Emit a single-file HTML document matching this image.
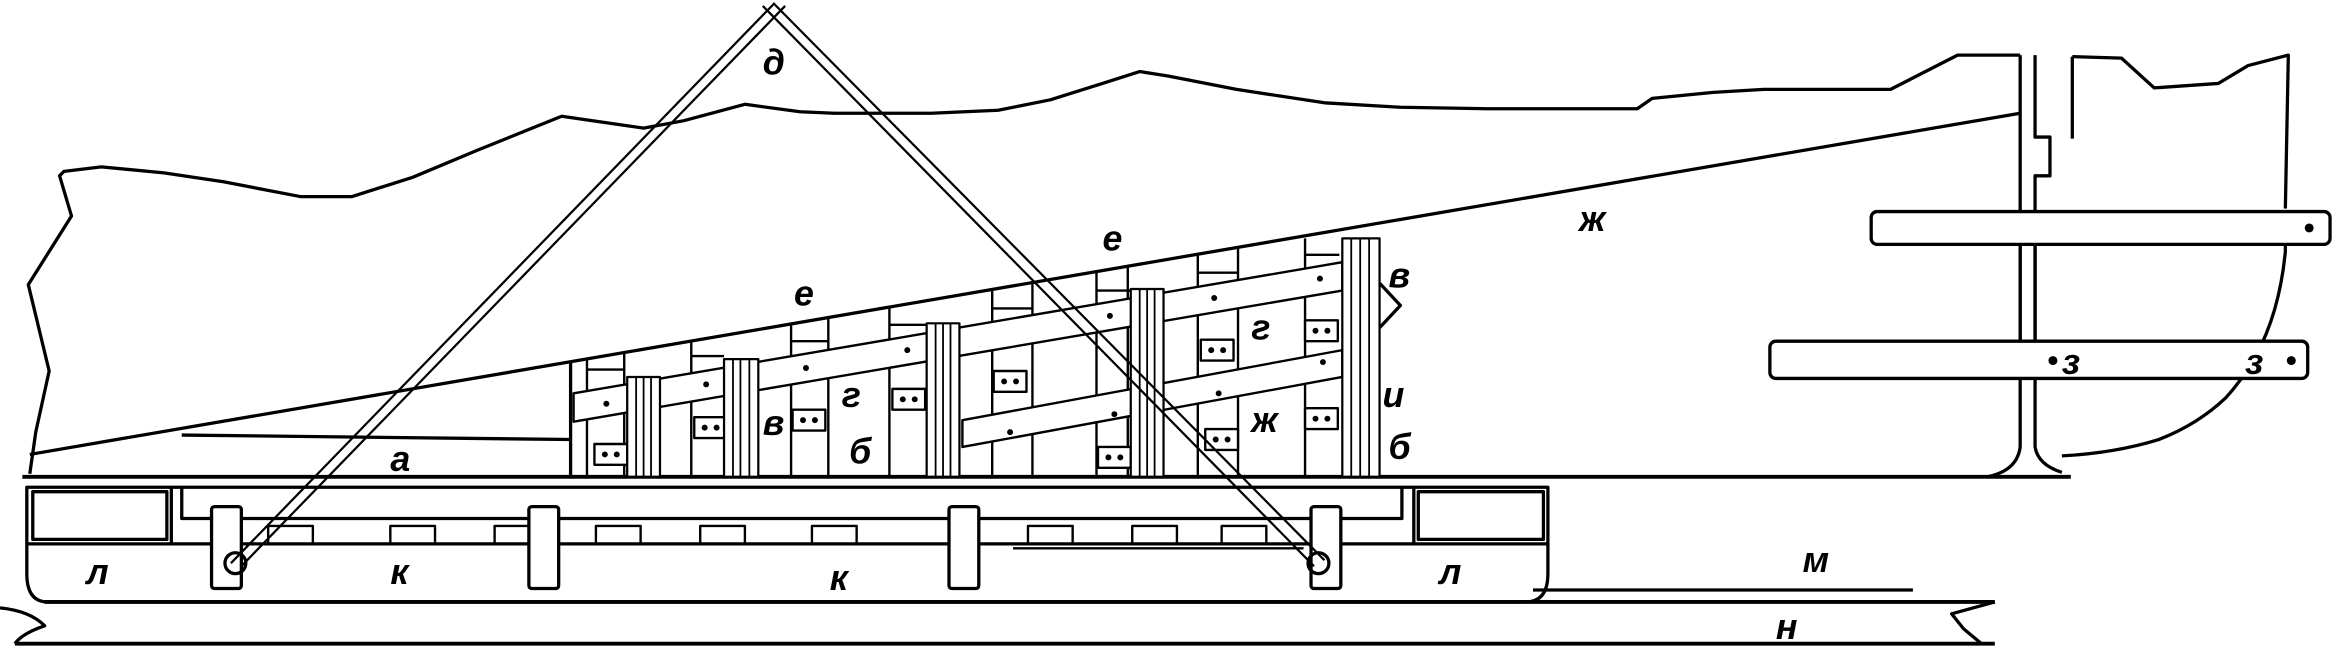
<!DOCTYPE html>
<html><head><meta charset="utf-8"><style>
html,body{margin:0;padding:0;background:#fff;}
svg{display:block;}
text{font-family:"Liberation Sans",sans-serif;font-style:italic;font-weight:bold;font-size:24px;fill:#000;}
</style></head><body>
<svg width="2336" height="652" viewBox="0 0 1568 437.6" preserveAspectRatio="none" xmlns="http://www.w3.org/2000/svg">
<defs>
<clipPath id="cr"><polygon points="383,243 905,152 905,320 383,320"/></clipPath>
</defs>
<g fill="none" stroke="#000" stroke-width="2.2" stroke-linejoin="round">
<!-- mountain / hull outline -->
<polyline points="20,318 24,290 33,249 19,191 48,145 40,118 43,115 68,112 110,116 150,122 202,132 236,132 277,119 320,101 377,78 432,86 459,81 500,70 537,75 560,76 625,76 670,74 705,67 740,56 765,48 784,51 830,60 889,69 940,72 999,73 1099,73 1109,66 1150,62 1184,60 1269,60 1314,37 1356,37"/>
<polyline points="1391,38 1424,39 1446,59 1489,56 1509,44 1536,37 1534,140"/>
<path d="M1534,164 L1534,169 Q1530,210 1514,239 Q1505,255 1494,267 Q1475,285 1449,295 Q1420,304 1384,306"/>
<!-- post -->
<path d="M1356,37 V300 Q1354,316 1334,320"/>
<path d="M1366,37 V92 H1376 V118 H1366 V300 Q1368,312 1384,317"/>
<line x1="1391" y1="38" x2="1391" y2="93"/>
<!-- slope line -->
<line x1="20" y1="305" x2="1356" y2="76"/>
<line x1="122" y1="292" x2="383" y2="295"/>
<!-- keel line -->
<line x1="15" y1="320" x2="1390" y2="320" stroke-width="2.6"/>
<!-- cradle -->
<line x1="383" y1="243" x2="383" y2="320"/>
<g clip-path="url(#cr)" stroke-width="1.6">
<path d="M394,230V320 M419,230V320 M464,225V320 M531,215V320 M556,210V320 M597,200V320 M666,190V320 M693,185V320 M736,180V320 M757,175V320 M804,170V320 M831,165V320 M876,160V320"/>
<path d="M394,248 H419 M464,239 H486 M531,229 H556 M597,218 H622 M666,207 H693 M736,195 H759 M804,183 H831 M876,171 H899"/>
<polygon points="385,264 901,176 901,195 385,283" fill="#fff"/>
<polygon points="646,282 901,235 901,253 646,300" fill="#fff"/>
<g fill="#fff">
<rect x="399" y="298" width="22" height="14"/><rect x="466" y="280" width="22" height="14"/>
<rect x="532" y="275" width="22" height="14"/><rect x="599" y="261" width="22" height="14"/>
<rect x="667" y="249" width="22" height="14"/><rect x="737" y="300" width="22" height="14"/>
<rect x="806" y="228" width="22" height="14"/><rect x="876" y="215" width="22" height="14"/>
<rect x="876" y="274" width="22" height="14"/><rect x="809" y="288" width="22" height="14"/>
</g>
</g>
<g stroke-width="1.5" fill="#fff">
<rect x="421" y="253" width="22" height="67"/><rect x="486" y="241" width="23" height="79"/>
<rect x="622" y="217" width="22" height="103"/><rect x="759" y="194" width="22" height="126"/>
<rect x="901" y="160" width="25" height="160"/>
</g>
<path d="M427,253V320 M432,253V320 M437,253V320 M492,241V320 M497,241V320 M503,241V320 M628,217V320 M633,217V320 M638,217V320 M765,194V320 M770,194V320 M775,194V320 M907,160V320 M913,160V320 M919,160V320" stroke-width="1.2"/>
<g fill="#000" stroke="none">
<circle cx="406" cy="305" r="2"/><circle cx="414" cy="305" r="2"/><circle cx="473" cy="287" r="2"/><circle cx="481" cy="287" r="2"/>
<circle cx="539" cy="282" r="2"/><circle cx="547" cy="282" r="2"/><circle cx="606" cy="268" r="2"/><circle cx="614" cy="268" r="2"/>
<circle cx="674" cy="256" r="2"/><circle cx="682" cy="256" r="2"/><circle cx="744" cy="307" r="2"/><circle cx="752" cy="307" r="2"/>
<circle cx="813" cy="235" r="2"/><circle cx="821" cy="235" r="2"/><circle cx="883" cy="222" r="2"/><circle cx="891" cy="222" r="2"/>
<circle cx="883" cy="281" r="2"/><circle cx="891" cy="281" r="2"/><circle cx="816" cy="295" r="2"/><circle cx="824" cy="295" r="2"/>
<circle cx="407" cy="271" r="2"/><circle cx="474" cy="258" r="2"/><circle cx="541" cy="247" r="2"/><circle cx="609" cy="235" r="2"/>
<circle cx="745" cy="212" r="2"/><circle cx="815" cy="200" r="2"/><circle cx="886" cy="187" r="2"/>
<circle cx="678" cy="290" r="2"/><circle cx="748" cy="278" r="2"/><circle cx="818" cy="264" r="2"/><circle cx="888" cy="243" r="2"/>
</g>
<path d="M926,190 L940,205 L926,220"/>
<!-- sled -->
<path d="M18,327 H1039 V385 Q1039,404 1024,404 H32 Q18,404 18,385 Z"/>
<path d="M18,365 H1039 M115,327 V365 M949,327 V365 M122,327 V348 H941 V327"/>
<rect x="22" y="330" width="90" height="32"/><rect x="952" y="330" width="84" height="32"/>
<g stroke-width="1.6">
<rect x="180" y="353" width="30" height="12"/><rect x="262" y="353" width="30" height="12"/><rect x="332" y="353" width="30" height="12"/>
<rect x="400" y="353" width="30" height="12"/><rect x="470" y="353" width="30" height="12"/><rect x="545" y="353" width="30" height="12"/>
<rect x="690" y="353" width="30" height="12"/><rect x="760" y="353" width="30" height="12"/><rect x="820" y="353" width="30" height="12"/>
<line x1="680" y1="368" x2="875" y2="368"/>
</g>
<g fill="#fff">
<rect x="142" y="340" width="20" height="55" rx="2"/><rect x="355" y="340" width="20" height="55" rx="2"/>
<rect x="637" y="340" width="20" height="55" rx="2"/><rect x="880" y="340" width="20" height="55" rx="2"/>
</g>
<!-- ground -->
<line x1="30" y1="404" x2="1339" y2="404" stroke-width="2.6"/>
<line x1="1029" y1="396" x2="1284" y2="396"/>
<line x1="10" y1="432" x2="1339" y2="432" stroke-width="2.6"/>
<path d="M0,408 Q20,410 30,420 Q15,425 10,432"/>
<path d="M1339,404 L1310,412 L1318,422 L1330,432"/>
<!-- cables -->
<g stroke-width="1.5">
<line x1="155" y1="378" x2="520" y2="2"/><line x1="162" y1="380" x2="527" y2="4"/>
<line x1="512" y1="4" x2="882" y2="380"/><line x1="519" y1="2" x2="889" y2="376"/>
</g>
<circle cx="158" cy="378" r="7"/><circle cx="885" cy="378" r="7"/>
<!-- bars -->
<rect x="1256" y="142" width="308" height="22" rx="4" fill="#fff"/>
<rect x="1188" y="229" width="361" height="25" rx="4" fill="#fff"/>
<line x1="1356" y1="164" x2="1356" y2="229"/><line x1="1366" y1="164" x2="1366" y2="229"/>
</g>
<g fill="#000"><circle cx="1550" cy="153" r="3"/><circle cx="1538" cy="242" r="3"/><circle cx="1378" cy="242" r="3"/></g>
<text x="512" y="50">д</text><text x="740" y="168">е</text><text x="533" y="205">е</text>
<text x="1060" y="155">ж</text><text x="932" y="193">в</text><text x="840" y="228">г</text>
<text x="512" y="292">в</text><text x="565" y="273">г</text><text x="570" y="311">б</text>
<text x="840" y="290">ж</text><text x="928" y="273">и</text><text x="932" y="308">б</text>
<text x="262" y="316">а</text><text x="58" y="392">л</text><text x="262" y="392">к</text>
<text x="557" y="396">к</text><text x="966" y="392">л</text><text x="1210" y="384">м</text>
<text x="1192" y="429">н</text><text x="1384" y="251">з</text><text x="1507" y="251">з</text>
</svg>
</body></html>
